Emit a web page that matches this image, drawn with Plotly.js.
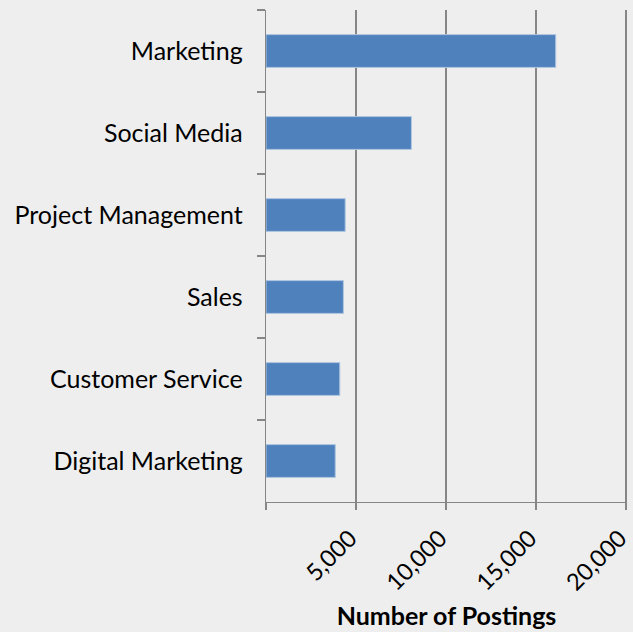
<!DOCTYPE html>
<html>
<head>
<meta charset="utf-8">
<script src="https://cdn.plot.ly/plotly-3.0.1.min.js"></script>
<style>
html,body{margin:0;padding:0;background:#EEEEEE;}
#chart{width:633px;height:632px;}
</style>
</head>
<body>
<div id="chart"></div>
<script>
var categories = ["Marketing", "Social Media", "Project Management", "Sales", "Customer Service", "Digital Marketing"];
var postings = [16100, 8080, 4400, 4300, 4100, 3850];
var xTickVals = [0, 5000, 10000, 15000, 20000];
var xTickText = ["", "5,000", "10,000", "15,000", "20,000"];

var font = "Lato, 'Open Sans', sans-serif";

var trace = {
  type: "bar",
  orientation: "h",
  x: postings,
  y: categories,
  width: 0.4,
  marker: {color: "#4F81BD", line: {color: "#B0C6E2", width: 1}},
  hoverinfo: "x+y"
};

var layout = {
  width: 633,
  height: 632,
  margin: {l: 266, r: 6, t: 10, b: 130},
  paper_bgcolor: "#EEEEEE",
  plot_bgcolor: "#EEEEEE",
  showlegend: false,
  font: {family: font, color: "#000000", size: 25},
  xaxis: {
    range: [0, 20060],
    tickvals: xTickVals,
    ticktext: xTickText,
    tickangle: -45,
    ticks: "outside",
    ticklen: 7,
    tickwidth: 1.3,
    tickcolor: "#868686",
    showgrid: true,
    gridcolor: "#868686",
    gridwidth: 1.3,
    showline: true,
    linecolor: "#868686",
    linewidth: 1.3,
    zeroline: false,
    ticklabeloverflow: "allow",
    ticklabelshift: -6,
    ticklabelstandoff: 5,
    tickfont: {family: font, size: 23.5, color: "#000000"},
    title: {text: "<b>Number of Postings</b>", font: {family: font, size: 25, color: "#000000"}, standoff: 13}
  },
  yaxis: {
    type: "category",
    autorange: "reversed",
    tickson: "boundaries",
    ticks: "outside",
    ticklen: 8,
    tickwidth: 1.3,
    tickcolor: "#868686",
    showgrid: false,
    showline: true,
    linecolor: "#868686",
    linewidth: 1.3,
    zeroline: false,
    ticklabelstandoff: 17,
    tickfont: {family: font, size: 25, color: "#000000"}
  }
};

Plotly.newPlot("chart", [trace], layout, {displayModeBar: false, staticPlot: true});
</script>
</body>
</html>
